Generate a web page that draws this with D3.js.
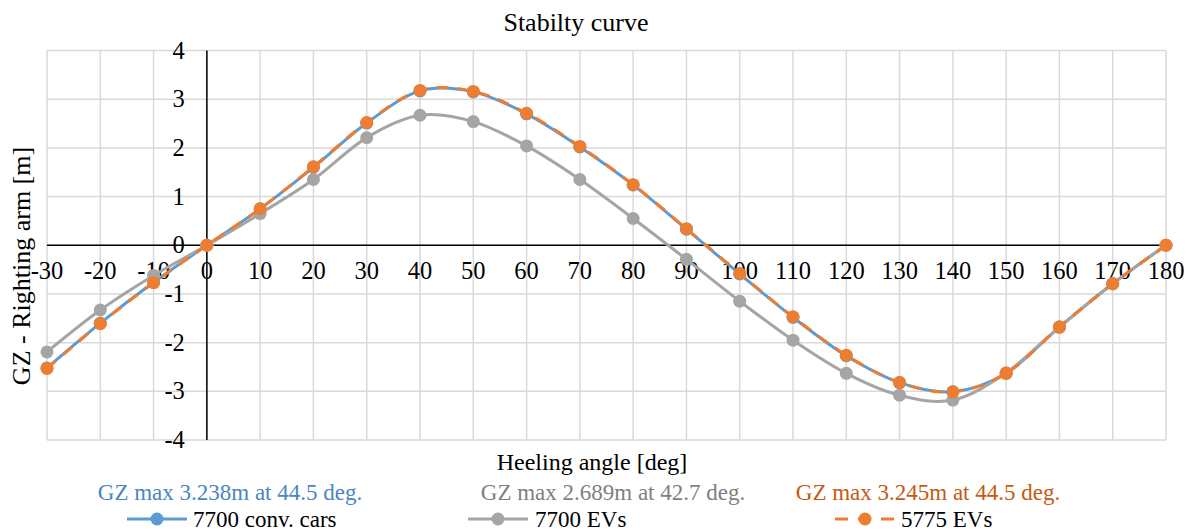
<!DOCTYPE html>
<html lang="en">
<head>
<meta charset="utf-8">
<script src="https://d3js.org/d3.v7.min.js"></script>
<style>
  body { margin: 0; background: #fff; }
</style>
</head>
<body>
<script>
// heel angles [deg]
const angles = [-30, -20, -10, 0, 10, 20, 30, 40, 50, 60, 70, 80, 90, 100, 110, 120, 130, 140, 150, 160, 170, 180];
// GZ values [m]
const gzConvCars = [-2.52, -1.60, -0.76, 0, 0.75, 1.60, 2.51, 3.17, 3.15, 2.70, 2.02, 1.24, 0.33, -0.59, -1.48, -2.27, -2.82, -3.01, -2.63, -1.68, -0.79, 0];
const gzEVs7700 = [-2.19, -1.33, -0.62, 0, 0.65, 1.35, 2.21, 2.67, 2.54, 2.04, 1.35, 0.55, -0.29, -1.15, -1.95, -2.63, -3.08, -3.18, -2.62, -1.68, -0.79, 0];
const gzEVs5775 = [-2.53, -1.61, -0.77, 0, 0.75, 1.61, 2.52, 3.18, 3.16, 2.71, 2.03, 1.245, 0.34, -0.58, -1.47, -2.26, -2.82, -3.01, -2.63, -1.68, -0.79, 0];
const seriesNames = ["7700 conv. cars", "7700 EVs", "5775 EVs"];
const gzMaxNotes = ["GZ max 3.238m at 44.5 deg.", "GZ max 2.689m at 42.7 deg.", "GZ max 3.245m at 44.5 deg."];
const xTicks = d3.range(-30, 181, 10);
const yTicks = [-4, -3, -2, -1, 0, 1, 2, 3, 4];

const W = 1193, H = 532;
const svg = d3.select("body").append("svg").attr("width", W).attr("height", H)
  .attr("font-family", "'Liberation Serif', 'Times New Roman', 'DejaVu Serif', serif");

const x = d3.scaleLinear().domain([-30, 180]).range([47, 1166]);
const y = d3.scaleLinear().domain([-4, 4]).range([440, 50.5]);

// grid
const grid = svg.append("g");
grid.selectAll(".vg").data(xTicks).enter().append("line")
  .attr("x1", d => x(d)).attr("x2", d => x(d))
  .attr("y1", y(4)).attr("y2", y(-4))
  .attr("stroke", "#d9d9d9").attr("stroke-width", 1.5);
grid.selectAll(".hg").data(yTicks).enter().append("line")
  .attr("x1", x(-30)).attr("x2", x(180))
  .attr("y1", d => y(d)).attr("y2", d => y(d))
  .attr("stroke", "#d9d9d9").attr("stroke-width", 1.5);

// axes through zero
svg.append("line").attr("x1", x(0)).attr("x2", x(0)).attr("y1", y(4)).attr("y2", y(-4))
  .attr("stroke", "#000").attr("stroke-width", 1.5);
svg.append("line").attr("x1", x(-30)).attr("x2", x(180)).attr("y1", y(0)).attr("y2", y(0))
  .attr("stroke", "#000").attr("stroke-width", 1.5);

// tick labels
svg.selectAll(".xt").data(xTicks).enter().append("text")
  .attr("x", d => x(d)).attr("y", y(0) + 34)
  .attr("text-anchor", "middle").attr("font-size", 24.5).attr("fill", "#000")
  .text(d => d);
svg.selectAll(".yt").data(yTicks).enter().append("text")
  .attr("x", x(0) - 22).attr("y", d => y(d) + 8)
  .attr("text-anchor", "end").attr("font-size", 24.5).attr("fill", "#000")
  .text(d => d);

// titles
svg.append("text").attr("x", 576).attr("y", 31).attr("text-anchor", "middle")
  .attr("font-size", 26).text("Stabilty curve");
svg.append("text").attr("x", 592).attr("y", 470).attr("text-anchor", "middle")
  .attr("font-size", 24).text("Heeling angle [deg]");
svg.append("text").attr("transform", "translate(30," + 266 + ") rotate(-90)")
  .attr("text-anchor", "middle").attr("font-size", 26).text("GZ - Righting arm [m]");

// series
const line = d3.line().x(d => x(d[0])).y(d => y(d[1])).curve(d3.curveCatmullRom.alpha(0));
const series = [
  { vals: gzConvCars, color: "#5b9bd5", dash: null },
  { vals: gzEVs7700, color: "#a5a5a5", dash: null },
  { vals: gzEVs5775, color: "#ed7d31", dash: "12,9" }
];
series.forEach(function(s) {
  const pts = angles.map((a, i) => [a, s.vals[i]]);
  svg.append("path").datum(pts).attr("d", line)
    .attr("fill", "none").attr("stroke", s.color).attr("stroke-width", 3)
    .attr("stroke-dasharray", s.dash);
  svg.selectAll(null).data(pts).enter().append("circle")
    .attr("cx", d => x(d[0])).attr("cy", d => y(d[1])).attr("r", 6.5)
    .attr("fill", s.color);
});

// legend
const noteColors = ["#4a86c5", "#7f7f7f", "#c55a11"];
const legX = [127, 468, 835];
const noteX = [230, 613, 928];
gzMaxNotes.forEach(function(t, i) {
  svg.append("text").attr("x", noteX[i]).attr("y", 500).attr("text-anchor", "middle")
    .attr("font-size", 23).attr("fill", noteColors[i]).text(t);
  const g = svg.append("g").attr("transform", "translate(" + legX[i] + ",519)");
  g.append("line").attr("x1", 0).attr("x2", 60).attr("y1", 0).attr("y2", 0)
    .attr("stroke", series[i].color).attr("stroke-width", 3)
    .attr("stroke-dasharray", series[i].dash ? "13,10" : null);
  g.append("circle").attr("cx", 30).attr("cy", 0).attr("r", 6.5).attr("fill", series[i].color);
  g.append("text").attr("x", 66 + (i === 1 ? 1 : 0)).attr("y", 8).attr("font-size", 23)
    .attr("fill", "#000").text(seriesNames[i]);
});
</script>
</body>
</html>
